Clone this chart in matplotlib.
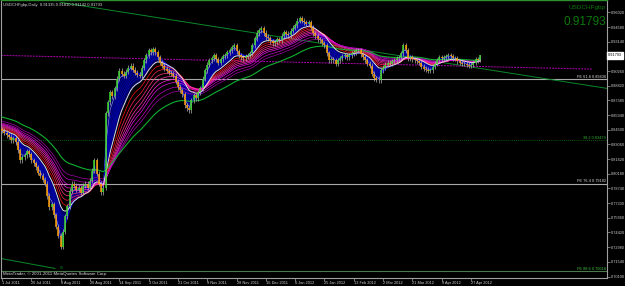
import numpy as np
import matplotlib
matplotlib.use('Agg')
import matplotlib.pyplot as plt
import matplotlib.transforms as mtransforms

plt.rcParams['font.family'] = ['Liberation Sans', 'DejaVu Sans']

#-----
# DATA
#-----
symbol = "USDCHFgbp"
last_ohlc = (0.91335, 0.91810, 0.91142, 0.91793)

# daily closes, 1 Jul 2011 .. 3 May 2012
closes = [
    0.8440, 0.8420, 0.8395, 0.8380, 0.8350, 0.8365, 0.8330, 0.8250, 0.8150, 0.8180,
    0.8200, 0.8240, 0.8210, 0.8150, 0.8120, 0.8080, 0.8030, 0.8000, 0.7960, 0.7920,
    0.7800, 0.7690, 0.7720, 0.7610, 0.7500, 0.7410, 0.7300, 0.7450, 0.7600, 0.7700,
    0.7850, 0.7920, 0.7900, 0.7860, 0.7880, 0.7830, 0.7900, 0.7920, 0.7880, 0.7950,
    0.8050, 0.8150, 0.8020, 0.7920, 0.7835, 0.7880, 0.8610, 0.8720, 0.8817, 0.8780,
    0.8856, 0.8950, 0.9030, 0.9000, 0.8980, 0.9020, 0.9060, 0.9080, 0.9040, 0.9010,
    0.8990, 0.8980, 0.9060, 0.9130, 0.9180, 0.9230, 0.9210, 0.9240, 0.9210, 0.9160,
    0.9110, 0.9080, 0.9050, 0.9030, 0.9010, 0.9000, 0.8980, 0.8920, 0.8870, 0.8836,
    0.8800, 0.8690, 0.8660, 0.8640, 0.8740, 0.8787, 0.8760, 0.8820, 0.8856, 0.8950,
    0.9032, 0.9090, 0.9131, 0.9150, 0.9180, 0.9140, 0.9110, 0.9140, 0.9170, 0.9180,
    0.9210, 0.9230, 0.9260, 0.9280, 0.9220, 0.9180, 0.9160, 0.9150, 0.9170, 0.9180,
    0.9200, 0.9280, 0.9347, 0.9400, 0.9425, 0.9445, 0.9400, 0.9360, 0.9347, 0.9320,
    0.9300, 0.9308, 0.9340, 0.9327, 0.9370, 0.9406, 0.9390, 0.9376, 0.9420, 0.9450,
    0.9474, 0.9520, 0.9543, 0.9520, 0.9504, 0.9490, 0.9504, 0.9450, 0.9396, 0.9370,
    0.9340, 0.9327, 0.9300, 0.9280, 0.9200, 0.9130, 0.9140, 0.9130, 0.9100, 0.9130,
    0.9150, 0.9170, 0.9180, 0.9160, 0.9180, 0.9200, 0.9210, 0.9230, 0.9230, 0.9190,
    0.9160, 0.9130, 0.9100, 0.9080, 0.9000, 0.8954, 0.8940, 0.8934, 0.9032, 0.9060,
    0.9090, 0.9110, 0.9100, 0.9120, 0.9130, 0.9150, 0.9160, 0.9200, 0.9280, 0.9230,
    0.9150, 0.9160, 0.9140, 0.9130, 0.9120, 0.9110, 0.9070, 0.9050, 0.9040, 0.9030,
    0.9032, 0.9070, 0.9100, 0.9130, 0.9160, 0.9150, 0.9160, 0.9170, 0.9180, 0.9170,
    0.9150, 0.9150, 0.9120, 0.9110, 0.9100, 0.9100, 0.9090, 0.9080, 0.9090, 0.9110,
    0.9140, 0.91335, 0.91793,
]
first_open = 0.8455

date_labels = ["1 Jul 2011", "20 Jul 2011", "8 Aug 2011", "26 Aug 2011", "14 Sep 2011",
               "3 Oct 2011", "21 Oct 2011", "9 Nov 2011", "28 Nov 2011", "16 Dec 2011",
               "6 Jan 2012", "25 Jan 2012", "13 Feb 2012", "2 Mar 2012", "21 Mar 2012",
               "9 Apr 2012", "27 Apr 2012"]
bars_per_label = 13

y_ticks = [0.70100, 0.71540, 0.72980, 0.74420, 0.75860, 0.77300, 0.78740, 0.80180,
           0.81620, 0.83060, 0.84500, 0.85940, 0.87380, 0.88820, 0.90260,
           0.93140, 0.94580, 0.96020]

# moving averages: (period, start level at left edge)
blue_periods = [2, 3, 4, 5, 6, 7, 8, 9, 10]
white_period, white_start = 12, 0.8450
ribbon_periods = [15, 18, 21, 24, 27, 30, 35, 40]
ribbon_starts = [0.8460, 0.8470, 0.8480, 0.8490, 0.8500, 0.8510, 0.8520, 0.8540]
green_period, green_start = 55, 0.8580

# horizontal levels (price, label)
fe_levels = [(0.89436, "FE 61.8 0.89436"), (0.79182, "FE 76.4 0.79182")]
mid_level = (0.83479, "38.2 0.83479")
low_level = (0.70618, "FE 88.6 0.70618")

# trend lines ((bar, price), (bar, price))
green_trend = ((26.0, 0.9700), (268.3, 0.8856))
low_trend = ((-0.5, 0.7187), (23.5, 0.7089))
magenta_trend = ((-0.5, 0.9180), (262.0, 0.9045))

#------
# SETUP
#------
n = len(closes)
x = np.arange(n)
c = np.array(closes)
o = np.concatenate([[first_open], c[:-1]])
WICK = 0.0025
hi = np.maximum(o, c) + WICK
lo = np.minimum(o, c) - WICK
hi[-1], lo[-1] = last_ohlc[1], last_ohlc[2]


def ema(vals, period, seed):
    a = 2.0 / (period + 1)
    e = seed
    out = []
    for v in vals:
        e = e + a * (v - e)
        out.append(e)
    return np.array(out)


fig = plt.figure(figsize=(6.25, 2.86), dpi=100, facecolor='black')
ax = fig.add_axes([1/625, 8/286, 606/625, 278/286], facecolor='black')
ax.set_xlim(-0.44, 268.3)
ax.set_ylim(0.69953, 0.97234)

#---------
# PLOTTING
#---------
# horizontal levels
for lvl, lab in fe_levels:
    ax.axhline(lvl, color='#a8a8a8', lw=0.8, zorder=1)
    ax.text(267.8, lvl + 0.0006, lab, color='#d8d8d8', fontsize=2.8, ha='right', va='bottom')
ax.axhline(mid_level[0], color='#0a7a0a', lw=0.6, ls=(0, (1, 1.5)), zorder=1)
ax.text(267.8, mid_level[0] + 0.0006, mid_level[1], color='#30b030', fontsize=2.8,
        ha='right', va='bottom')
ax.axhline(low_level[0], color='#4a7a4a', lw=0.8, zorder=1)
ax.text(267.8, low_level[0] + 0.0006, low_level[1], color='#40c040', fontsize=2.8,
        ha='right', va='bottom')

# trend lines
for (p0, p1), col, ls in [(green_trend, '#0a8a2a', '-'), (low_trend, '#0a8a2a', '-'),
                          (magenta_trend, '#b000b0', (0, (2, 1)))]:
    ax.plot([p0[0], p1[0]], [p0[1], p1[1]], color=col, lw=0.7, ls=ls, zorder=1)
ax.text(26.6, 0.7095, "00", color='#0a8a2a', fontsize=2.6, ha='center', va='center')

# moving averages
blue = [ema(c, p, c[0]) for p in blue_periods]
white = ema(c, white_period, white_start)
ax.fill_between(x, blue[0], white, color='#000060', lw=0, zorder=2)
for i, b in enumerate(blue):
    ax.plot(x, b, color='#8c8cff' if i == 1 else '#0000b8', lw=0.45, zorder=3)
ax.plot(x, white, color='#e0e0e0', lw=0.7, zorder=4)

rib_colors = ['#ff1010', '#ff2050', '#ff3080', '#ff30b0', '#ff20d8', '#e010e0',
              '#c000c0', '#a000a8']
for p, s, col in zip(ribbon_periods, ribbon_starts, rib_colors):
    ax.plot(x, ema(c, p, s), color=col, lw=0.5, zorder=3)
ax.plot(x, ema(c, green_period, green_start), color='#10b030', lw=0.8, zorder=3)

# candles
up = c >= o
ax.vlines(x, lo, hi, color='#b0b0b0', lw=0.5, zorder=5)
ax.vlines(x[up], o[up], c[up], color='#40d830', lw=1.1, zorder=6)
ax.vlines(x[~up], o[~up], c[~up], color='#ffa000', lw=1.1, zorder=6)

#-----
# AXES
#-----
for side in ['left', 'right', 'bottom']:
    ax.spines[side].set_color('#a0a0a0')
    ax.spines[side].set_linewidth(0.8)
ax.spines['top'].set_color('#2f8f2f')
ax.spines['top'].set_linewidth(1.0)

ax.yaxis.tick_right()
ax.set_yticks(y_ticks)
ax.set_yticklabels(["{:.5f}".format(v) for v in y_ticks])
ax.tick_params(axis='y', colors='#a0a0a0', labelcolor='#d0d0d0', labelsize=2.8,
               length=2, width=0.5, pad=1)

xt = [k * bars_per_label for k in range(len(date_labels))]
ax.set_xticks(xt)
ax.set_xticklabels(date_labels, ha='left')
ax.tick_params(axis='x', colors='#a0a0a0', labelcolor='#d0d0d0', labelsize=2.8,
               length=2, width=0.5, pad=0.5)

# texts
ax.text(0.5, 0.9670, "{},Daily  {:.5f} {:.5f} {:.5f} {:.5f}".format(symbol, *last_ohlc),
        color='#d8d8d8', fontsize=3.0, ha='left', va='center')
ax.text(0.5, 0.7030, "MetaTrader, \u00a9 2001-2011 MetaQuotes Software Corp.",
        color='#d8d8d8', fontsize=3.2, ha='left', va='center')
ax.text(267.8, 0.9650, symbol, color='#0a7a0a', fontsize=4.6, ha='right', va='center')
ax.text(267.8, 0.9503, "{:.5f}".format(last_ohlc[3]), color='#0a7a0a', fontsize=8.5,
        ha='right', va='center')

trans = mtransforms.blended_transform_factory(ax.transAxes, ax.transData)
ax.text(1.002, last_ohlc[3], "{:.5f}".format(last_ohlc[3]), transform=trans,
        color='black', fontsize=2.8, ha='left', va='center',
        bbox=dict(boxstyle='square,pad=0.3', facecolor='white', edgecolor='white'))

fig.savefig('out.png', dpi=100, facecolor='black')
